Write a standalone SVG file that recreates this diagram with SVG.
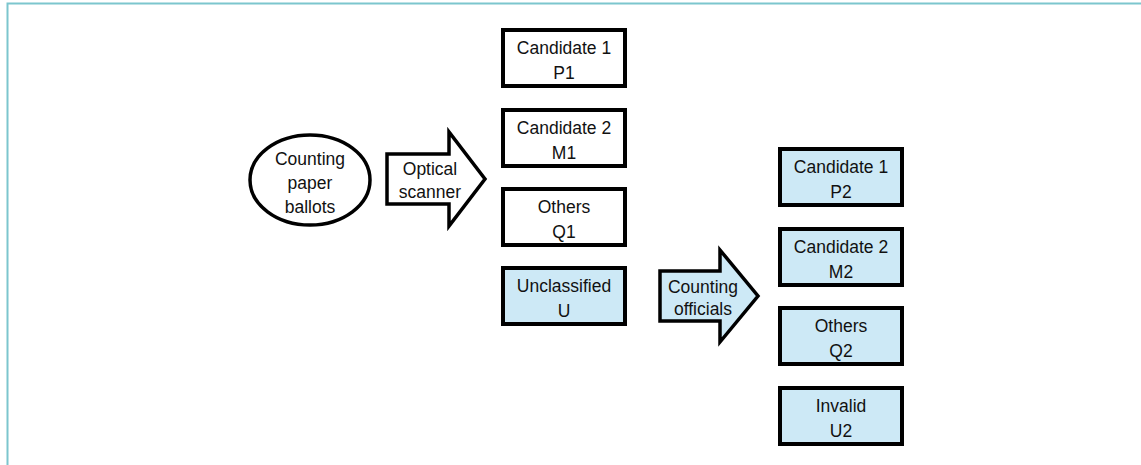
<svg xmlns="http://www.w3.org/2000/svg" width="1141" height="465" viewBox="0 0 1141 465">
<style>
.frame{stroke:#7cc6ce;stroke-width:2;fill:none}
.box{stroke:#000;stroke-width:4;fill:#fff}
.arrow{stroke:#000;stroke-width:3.5;stroke-linejoin:miter;fill:#fff}
.blue{fill:#cde9f6}
text{font-family:"Liberation Sans",Arial,sans-serif;font-size:17.5px;fill:#111;text-anchor:middle}
</style>
<rect x="0" y="0" width="1141" height="465" fill="#fff"/>
<path class="frame" d="M7.5,465 V3.5 H1141"/>
<g id="start">
<ellipse cx="310" cy="180" rx="60" ry="45" fill="#fff" stroke="#000" stroke-width="3.5"/>
<text x="310" y="165">Counting</text>
<text x="310" y="189">paper</text>
<text x="310" y="213">ballots</text>
</g>
<g id="connectors">
<g id="optical-scanner">
<polygon class="arrow" points="387,154 449,154 449,132 485,179 449,226 449,204 387,204"/>
<text x="430" y="175">Optical</text>
<text x="430" y="198">scanner</text>
</g>
<g id="counting-officials">
<polygon class="arrow blue" points="660,271 720,271 720,250 758,296 720,342 720,321 660,321"/>
<text x="703" y="293">Counting</text>
<text x="703" y="315">officials</text>
</g>
</g>
<g id="p1"><rect class="box" x="503" y="30" width="122" height="56"/><text x="564" y="54">Candidate 1</text><text x="564" y="79">P1</text></g>
<g id="m1"><rect class="box" x="503" y="110" width="122" height="56"/><text x="564" y="134">Candidate 2</text><text x="564" y="159">M1</text></g>
<g id="q1"><rect class="box" x="503" y="189" width="122" height="56"/><text x="564" y="213">Others</text><text x="564" y="238">Q1</text></g>
<g id="u"><rect class="box blue" x="503" y="268" width="122" height="56"/><text x="564" y="292">Unclassified</text><text x="564" y="317">U</text></g>
<g id="p2"><rect class="box blue" x="780" y="149" width="122" height="56"/><text x="841" y="173">Candidate 1</text><text x="841" y="198">P2</text></g>
<g id="m2"><rect class="box blue" x="780" y="229" width="122" height="56"/><text x="841" y="253">Candidate 2</text><text x="841" y="278">M2</text></g>
<g id="q2"><rect class="box blue" x="780" y="308" width="122" height="56"/><text x="841" y="332">Others</text><text x="841" y="357">Q2</text></g>
<g id="u2"><rect class="box blue" x="780" y="388" width="122" height="56"/><text x="841" y="412">Invalid</text><text x="841" y="437">U2</text></g>
</svg>
